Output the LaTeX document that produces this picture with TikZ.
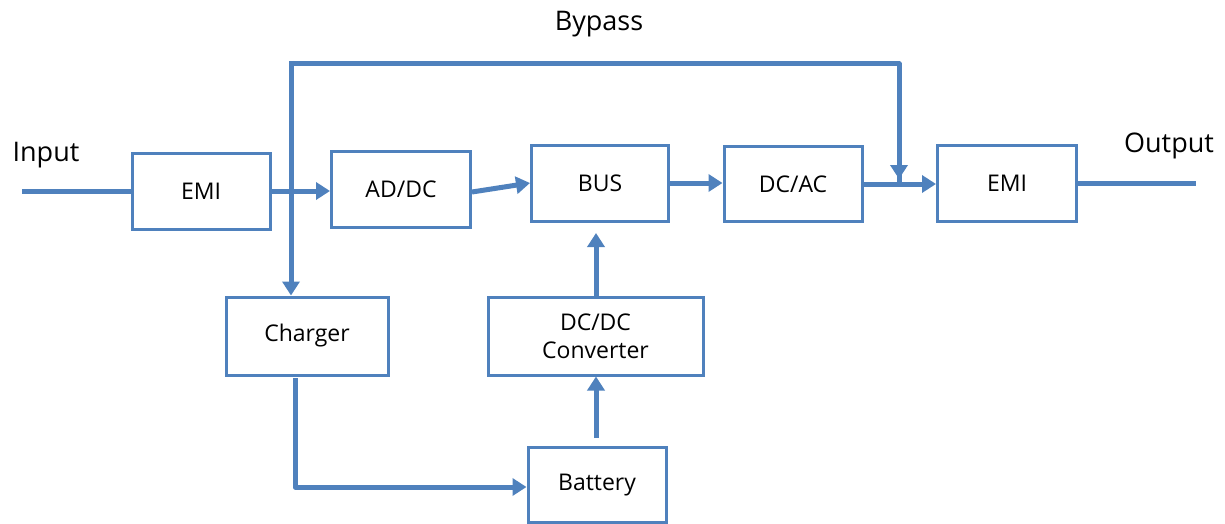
\documentclass[tikz,border=0pt]{standalone}
\usepackage{fontspec}
\setmainfont{Open Sans}
\usetikzlibrary{arrows.meta}
\definecolor{ln}{HTML}{4F81BD}
\begin{document}
\begin{tikzpicture}[x=1pt,y=-1pt,
  blk/.style={draw=ln,line width=3pt,fill=white,inner sep=0pt,font=\fontsize{23}{28}\selectfont,align=center},
  wire/.style={draw=ln,line width=5pt},
  arr/.style={wire,-{Triangle[length=14pt,width=17pt]}},
  lbl/.style={font=\fontsize{27}{32}\selectfont}]
\useasboundingbox (0,0) rectangle (1225,524);
\node[blk,minimum width=138pt,minimum height=76pt] (emi1) at (201,191) {EMI};
\node[blk,minimum width=139pt,minimum height=76pt] (addc) at (401,189) {AD/DC};
\node[blk,minimum width=137pt,minimum height=76pt] (bus) at (600,183) {BUS};
\node[blk,minimum width=138pt,minimum height=75pt] (dcac) at (793,184) {DC/AC};
\node[blk,minimum width=139pt,minimum height=76pt] (emi2) at (1007,183) {EMI};
\node[blk,minimum width=162pt,minimum height=78pt] (chg) at (307,336) {Charger};
\node[blk,minimum width=215pt,minimum height=78pt] (dcdc) at (595.5,336) {DC/DC\\Converter};
\node[blk,minimum width=138pt,minimum height=75pt] (bat) at (597,485) {Battery};
\node[lbl] (in) at (46,155) {Input};
\node[lbl] (out) at (1169,146) {Output};
\node[lbl] (byp) at (599,24) {Bypass};
\coordinate (ins) at (22,191);
\coordinate (oute) at (1196,183);
\coordinate (bl) at (291,64);
\coordinate (br) at (899,64);
\coordinate (bd) at (899,179);
\coordinate (cl) at (295,378);
\coordinate (cb) at (295,487);
\coordinate (bt) at (596,438);
\coordinate (dt) at (596,297);
\coordinate (bb) at (596,233);
\draw[wire] (ins) -- (emi1.west |- ins);
\draw[wire] (emi2.east |- oute) -- (oute);
\draw[arr] (emi1.east) -- (addc.west |- emi1.east);
\draw[arr] ([yshift=-3pt]addc.east) -- (bus.west);
\draw[arr] (bus.east) -- (dcac.west |- bus.east);
\draw[arr] (dcac.east) -- (emi2.west |- dcac.east);
\draw[wire,line join=round] (291,61) -- (bl) -- (br) -- ([yshift=-8pt]bd);
\draw[arr] (br) -- (bd);
\draw[arr] (bl) -- (chg.north -| bl);
\draw[arr,line join=round] (cl) -- (cb) -- (bat.west |- cb);
\draw[arr] (bt) -- (dcdc.south -| bt);
\draw[arr] (dt) -- (bb);
\end{tikzpicture}
\end{document}
